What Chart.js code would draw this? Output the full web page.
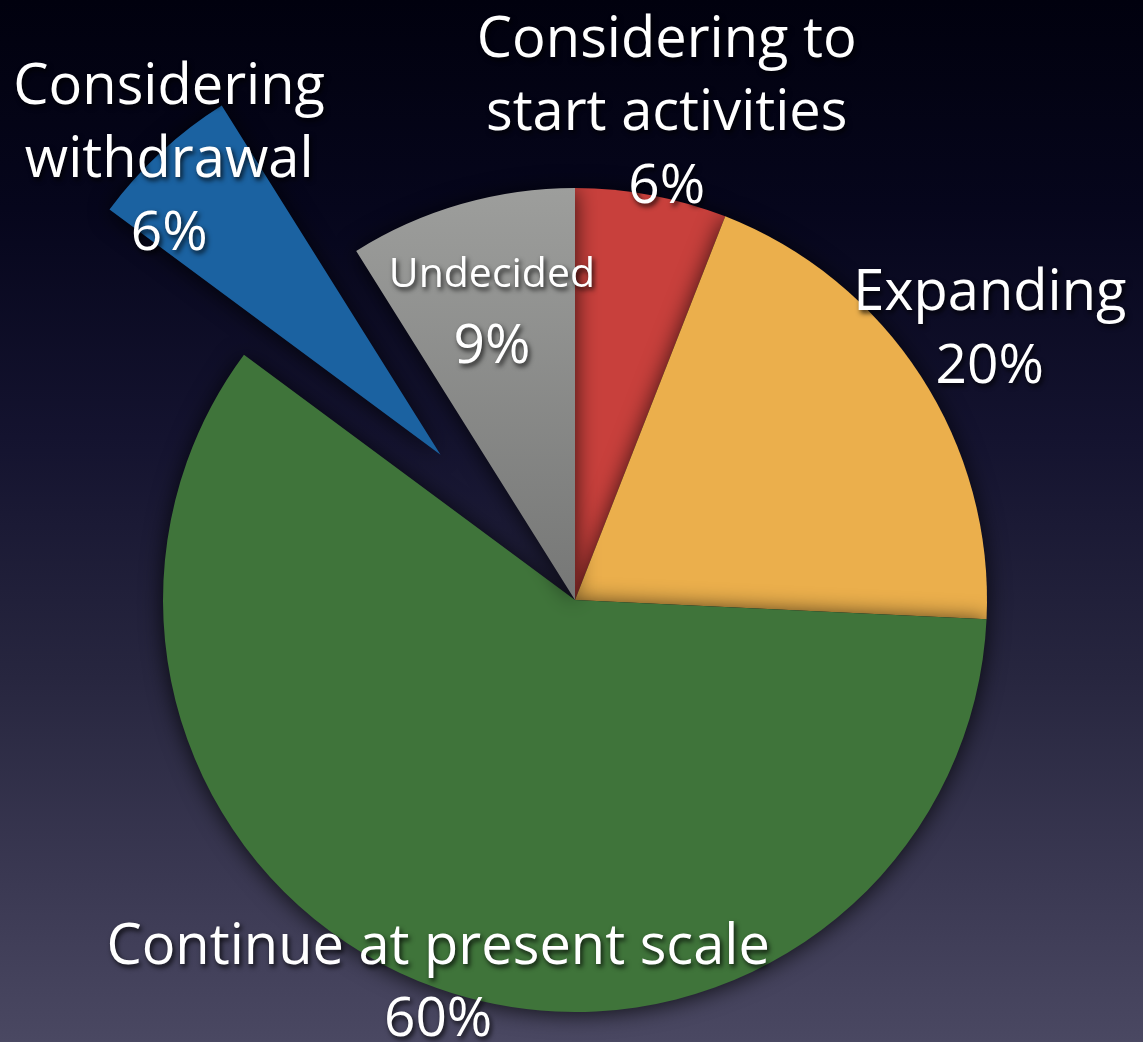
<!DOCTYPE html>
<html>
<head>
<meta charset="utf-8">
<script src="https://cdn.jsdelivr.net/npm/chart.js@4.4.0/dist/chart.umd.min.js"></script>
<style>
  html, body { margin: 0; padding: 0; }
  body {
    width: 1143px; height: 1042px; overflow: hidden;
    background: linear-gradient(to bottom, #01010e 0%, #06061c 20%, #14132f 42%, #27263f 65%, #3b3953 85%, #4a4862 100%);
  }
  canvas { display: block; }
</style>
</head>
<body>
<canvas id="planChart" width="1143" height="1042"></canvas>
<script>
// Survey answers, clockwise from 12 o'clock
const categories = [
    ['Considering to', 'start activities'],
    ['Expanding'],
    ['Continue at present scale'],
    ['Considering', 'withdrawal'],
    ['Undecided']
];
const shares = [6, 20, 60, 6, 9];
const sliceColors = ['#c8403c', '#ebaf4c', '#3f743a', '#1b62a1', ['#9d9e9c', '#767776']];
// how far a slice is pulled out from the centre, px
const explode = [0, 0, 0, 198, 0];

// where each label sits, as a multiple of the radius along the slice's middle
const labelRadius = [1.2, 1.2, 0.99, 0.97, 0.73];
const labelFont = '"Open Sans", "Lato", sans-serif';

function sliceFill(context) {
    const col = sliceColors[context.dataIndex];
    if (!Array.isArray(col)) return col;
    const chart = context.chart;
    const area = chart.chartArea;
    if (!area) return col[0];
    // grey slice fades a little towards the centre
    const cy = (area.top + area.bottom) / 2;
    const g = chart.ctx.createLinearGradient(0, cy - 412, 0, cy);
    g.addColorStop(0, col[0]);
    g.addColorStop(1, col[1]);
    return g;
}

// move exploded slices out along their middle angle, keeping their radius
const explodePlugin = {
    id: 'explodeSlices',
    afterUpdate: function (chart) {
        chart.getDatasetMeta(0).data.forEach((arc, i) => {
            if (!explode[i]) return;
            const mid = (arc.startAngle + arc.endAngle) / 2;
            arc.x += Math.cos(mid) * explode[i];
            arc.y += Math.sin(mid) * explode[i];
        });
    }
};

const shadowPlugin = {
    id: 'sliceShadow',
    beforeDatasetsDraw: function (chart) {
        const c = chart.ctx;
        c.save();
        c.shadowColor = 'rgba(0, 0, 0, 0.75)';
        c.shadowBlur = 22;
        c.shadowOffsetX = 0;
        c.shadowOffsetY = 2;
    },
    afterDatasetsDraw: function (chart) {
        chart.ctx.restore();
    }
};

const labelPlugin = {
    id: 'sliceLabels',
    afterDatasetsDraw: function (chart) {
        const c = chart.ctx;
        const arcs = chart.getDatasetMeta(0).data;
        c.save();
        c.fillStyle = '#ffffff';
        c.textAlign = 'center';
        c.textBaseline = 'middle';
        c.shadowColor = 'rgba(0, 0, 0, 0.8)';
        c.shadowBlur = 5;
        c.shadowOffsetX = 2;
        c.shadowOffsetY = 3;
        arcs.forEach((arc, i) => {
            const mid = (arc.startAngle + arc.endAngle) / 2;
            const r = arc.outerRadius * labelRadius[i];
            const x = arc.x + Math.cos(mid) * r;
            const y = arc.y + Math.sin(mid) * r;
            const lines = categories[i];
            const small = i === 4;
            const lineHeight = small ? 72 : 73;
            const top = y - lines.length * lineHeight / 2;
            c.font = (small ? '41px ' : '56px ') + labelFont;
            lines.forEach((line, k) => {
                c.fillText(line, x, top + k * lineHeight);
            });
            c.font = '55px ' + labelFont;
            c.fillText(shares[i] + '%', x, top + lines.length * lineHeight);
        });
        c.restore();
    }
};

const ctx = document.getElementById('planChart').getContext('2d');
const planChart = new Chart(ctx, {
    type: 'pie',
    data: {
        labels: categories.map(l => l.join(' ')),
        datasets: [{
            data: shares,
            backgroundColor: sliceFill,
            borderWidth: 0
        }]
    },
    options: {
        responsive: false,
        animation: false,
        radius: 412,
        layout: {
            padding: { top: 158, bottom: 0, left: 7, right: 0 }
        },
        plugins: {
            legend: { display: false },
            tooltip: { enabled: false }
        }
    },
    plugins: [explodePlugin, shadowPlugin, labelPlugin]
});
</script>
</body>
</html>
